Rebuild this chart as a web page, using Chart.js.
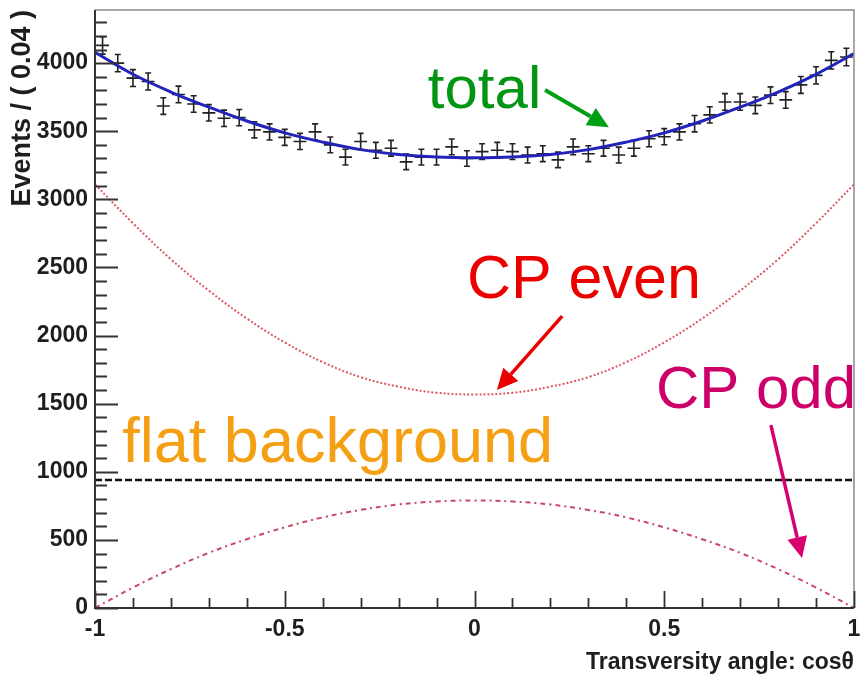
<!DOCTYPE html>
<html lang="en">
<head>
<meta charset="UTF-8">
<title>Transversity angle</title>
<script src="https://cdn.jsdelivr.net/npm/chart.js"></script>
<style>
    body { margin: 0; background: #fff; }
    #wrap { width: 861px; height: 677px; }
</style>
</head>
<body>
<div id="wrap"><canvas id="chart"></canvas></div>
<script>
// binned data, bin width 0.04
const binCenters = [-0.98, -0.94, -0.90, -0.86, -0.82, -0.78, -0.74, -0.70, -0.66, -0.62,
    -0.58, -0.54, -0.50, -0.46, -0.42, -0.38, -0.34, -0.30, -0.26, -0.22,
    -0.18, -0.14, -0.10, -0.06, -0.02, 0.02, 0.06, 0.10, 0.14, 0.18,
    0.22, 0.26, 0.30, 0.34, 0.38, 0.42, 0.46, 0.50, 0.54, 0.58,
    0.62, 0.66, 0.70, 0.74, 0.78, 0.82, 0.86, 0.90, 0.94, 0.98]
const events = [4130, 4000, 3890, 3865, 3685, 3770, 3700, 3635, 3595, 3600,
    3510, 3495, 3455, 3425, 3495, 3400, 3310, 3425, 3360, 3375,
    3275, 3310, 3310, 3385, 3300, 3350, 3360, 3350, 3325, 3335,
    3290, 3385, 3335, 3375, 3325, 3375, 3445, 3460, 3495, 3555,
    3620, 3715, 3715, 3690, 3765, 3730, 3840, 3910, 4020, 4045]
const eventErrors = [64, 63, 62, 62, 61, 61, 61, 60, 60, 60,
    59, 59, 59, 59, 59, 58, 58, 59, 58, 58,
    57, 58, 58, 58, 57, 58, 58, 58, 58, 58,
    57, 58, 58, 58, 58, 58, 59, 59, 59, 60,
    60, 61, 61, 61, 61, 61, 62, 63, 63, 64]
const binHalfWidth = 0.017

// fit components
const curveX = [-1, -0.9, -0.8, -0.7, -0.6, -0.5, -0.4, -0.3, -0.2, -0.1, 0,
    0.1, 0.2, 0.3, 0.4, 0.5, 0.6, 0.7, 0.8, 0.9, 1]
const totalFit = [4080, 3918, 3788, 3677, 3575, 3488, 3420, 3365, 3330, 3310, 3305,
    3310, 3330, 3365, 3420, 3488, 3575, 3677, 3788, 3918, 4070]
const cpEven = [3110, 2825, 2560, 2330, 2125, 1950, 1805, 1695, 1625, 1580, 1568,
    1580, 1625, 1695, 1805, 1950, 2125, 2330, 2560, 2825, 3110]
const cpOdd = [0, 150, 285, 405, 505, 592, 665, 720, 760, 782, 790,
    782, 760, 720, 665, 592, 505, 405, 285, 150, 0]
const flatX = [-1, 1]
const flatBkg = [940, 940]

const xTickLabels = [-1, -0.5, 0, 0.5, 1]
const yTickLabels = [0, 500, 1000, 1500, 2000, 2500, 3000, 3500, 4000]

const FONT = '"Liberation Sans", Arial, Helvetica, sans-serif'

const pts = (xs, ys) => xs.map((x, i) => ({ x: x, y: ys[i] }))

// text notes and arrows, placed in data coordinates
const notes = [
    { text: 'total', x: -0.123, y: 3670, size: 60, color: 'rgb(0,150,20)' },
    { text: 'CP even', x: -0.020, y: 2275, size: 61, color: 'rgb(235,0,0)' },
    { text: 'CP odd', x: 0.478, y: 1468, size: 60, color: 'rgb(205,0,105)' },
    { text: 'flat background', x: -0.928, y: 1072, size: 63, color: 'rgb(245,160,20)' }
]
const arrows = [
    { x1: 0.186, y1: 3802, x2: 0.354, y2: 3530, color: 'rgb(0,160,20)', w: 4 },
    { x1: 0.231, y1: 2143, x2: 0.059, y2: 1600, color: 'rgb(235,0,0)', w: 3.5 },
    { x1: 0.781, y1: 1343, x2: 0.863, y2: 367, color: 'rgb(215,0,110)', w: 3.5 }
]

function drawArrow(ctx, x1, y1, x2, y2, color, w) {
    const a = Math.atan2(y2 - y1, x2 - x1)
    const len = 21, half = 10
    const bx = x2 - len * Math.cos(a), by = y2 - len * Math.sin(a)
    ctx.strokeStyle = color
    ctx.fillStyle = color
    ctx.lineWidth = w
    ctx.beginPath()
    ctx.moveTo(x1, y1)
    ctx.lineTo(bx, by)
    ctx.stroke()
    ctx.beginPath()
    ctx.moveTo(x2, y2)
    ctx.lineTo(bx + half * Math.sin(a), by - half * Math.cos(a))
    ctx.lineTo(bx - half * Math.sin(a), by + half * Math.cos(a))
    ctx.closePath()
    ctx.fill()
}

const rootStyle = {
    id: 'rootStyle',
    beforeDatasetsDraw(chart) {
        const { ctx, scales: { x, y } } = chart
        ctx.save()
        ctx.strokeStyle = '#222'
        ctx.lineWidth = 1.6
        binCenters.forEach((c, i) => {
            const px = x.getPixelForValue(c)
            const py = y.getPixelForValue(events[i])
            const top = y.getPixelForValue(events[i] + eventErrors[i])
            const bot = y.getPixelForValue(events[i] - eventErrors[i])
            ctx.beginPath()
            ctx.moveTo(x.getPixelForValue(c - binHalfWidth), py)
            ctx.lineTo(x.getPixelForValue(c + binHalfWidth), py)
            ctx.moveTo(px, top)
            ctx.lineTo(px, bot)
            ctx.moveTo(px - 3, top)
            ctx.lineTo(px + 3, top)
            ctx.moveTo(px - 3, bot)
            ctx.lineTo(px + 3, bot)
            ctx.stroke()
        })
        ctx.restore()
    },
    afterDatasetsDraw(chart) {
        const { ctx, chartArea: a, scales: { x, y } } = chart
        ctx.save()
        // frame
        ctx.strokeStyle = '#8a8a8a'
        ctx.lineWidth = 1.5
        ctx.beginPath()
        ctx.moveTo(a.left, a.top)
        ctx.lineTo(a.right, a.top)
        ctx.lineTo(a.right, a.bottom)
        ctx.stroke()
        ctx.strokeStyle = '#333'
        ctx.lineWidth = 2
        ctx.beginPath()
        ctx.moveTo(a.left, a.top)
        ctx.lineTo(a.left, a.bottom)
        ctx.lineTo(a.right, a.bottom)
        ctx.stroke()
        // inward ticks
        ctx.lineWidth = 1.8
        ctx.beginPath()
        for (let v = 0; v <= y.max; v += 100) {
            const py = Math.round(y.getPixelForValue(v)) + 0.5
            const len = v % 500 === 0 ? 23 : 12
            ctx.moveTo(a.left, py)
            ctx.lineTo(a.left + len, py)
        }
        for (let k = -10; k <= 10; k++) {
            const px = Math.round(x.getPixelForValue(k / 10)) + 0.5
            const len = k % 5 === 0 ? 17 : 10
            ctx.moveTo(px, a.bottom)
            ctx.lineTo(px, a.bottom - len)
        }
        ctx.stroke()
        // notes
        ctx.textBaseline = 'alphabetic'
        ctx.textAlign = 'left'
        notes.forEach(n => {
            ctx.font = n.size + 'px ' + FONT
            ctx.fillStyle = n.color
            ctx.fillText(n.text, x.getPixelForValue(n.x), y.getPixelForValue(n.y))
        })
        arrows.forEach(r => drawArrow(ctx,
            x.getPixelForValue(r.x1), y.getPixelForValue(r.y1),
            x.getPixelForValue(r.x2), y.getPixelForValue(r.y2), r.color, r.w))
        ctx.restore()
    }
}

const tickFont = { family: FONT, size: 23, weight: 'bold' }

new Chart(document.getElementById('chart'), {
    type: 'scatter',
    data: {
        datasets: [
            {
                label: 'total',
                type: 'line',
                data: pts(curveX, totalFit),
                borderColor: 'rgb(35,35,185)',
                borderWidth: 3,
                pointRadius: 0,
                tension: 0.4
            },
            {
                label: 'CP even',
                type: 'line',
                data: pts(curveX, cpEven),
                borderColor: 'rgba(215,60,70,0.85)',
                borderWidth: 2,
                borderDash: [2, 2],
                pointRadius: 0,
                tension: 0.4
            },
            {
                label: 'CP odd',
                type: 'line',
                data: pts(curveX, cpOdd),
                borderColor: 'rgba(190,40,70,0.85)',
                borderWidth: 2,
                borderDash: [5, 4, 2, 4],
                pointRadius: 0,
                tension: 0.4
            },
            {
                label: 'flat background',
                type: 'line',
                data: pts(flatX, flatBkg),
                borderColor: '#111',
                borderWidth: 2.5,
                borderDash: [7, 3],
                pointRadius: 0
            },
            {
                label: 'data',
                data: pts(binCenters, events),
                pointRadius: 0,
                showLine: false
            }
        ]
    },
    options: {
        responsive: true,
        maintainAspectRatio: false,
        animation: false,
        events: [],
        layout: { padding: { left: 0, right: 7, top: 10, bottom: 0 } },
        plugins: { legend: { display: false }, tooltip: { enabled: false } },
        scales: {
            x: {
                type: 'linear',
                min: -1,
                max: 1,
                afterBuildTicks: s => { s.ticks = xTickLabels.map(v => ({ value: v })) },
                afterFit: s => { s.height = 69; s.paddingLeft = 0; s.paddingRight = 0 },
                grid: { display: false, drawTicks: false },
                border: { display: false },
                ticks: {
                    font: tickFont,
                    color: '#1e1e1e',
                    padding: 8,
                    maxRotation: 0,
                    autoSkip: false,
                    callback: v => String(v)
                },
                title: {
                    display: true,
                    text: 'Transversity angle: cosθ',
                    align: 'end',
                    color: '#1e1e1e',
                    font: { family: FONT, size: 23, weight: 'bold' },
                    padding: { top: 0, bottom: 1 }
                }
            },
            y: {
                min: 0,
                max: 4390,
                afterBuildTicks: s => { s.ticks = yTickLabels.map(v => ({ value: v })) },
                afterFit: s => { s.width = 95; s.paddingTop = 0; s.paddingBottom = 0 },
                grid: { display: false, drawTicks: false },
                border: { display: false },
                ticks: {
                    font: tickFont,
                    color: '#1e1e1e',
                    padding: 7,
                    autoSkip: false,
                    callback: v => String(v)
                },
                title: {
                    display: true,
                    text: 'Events / ( 0.04 )',
                    align: 'end',
                    color: '#1e1e1e',
                    font: { family: FONT, size: 27, weight: 'bold' },
                    padding: { top: 6, bottom: 0 }
                }
            }
        }
    },
    plugins: [rootStyle]
})
</script>
</body>
</html>
